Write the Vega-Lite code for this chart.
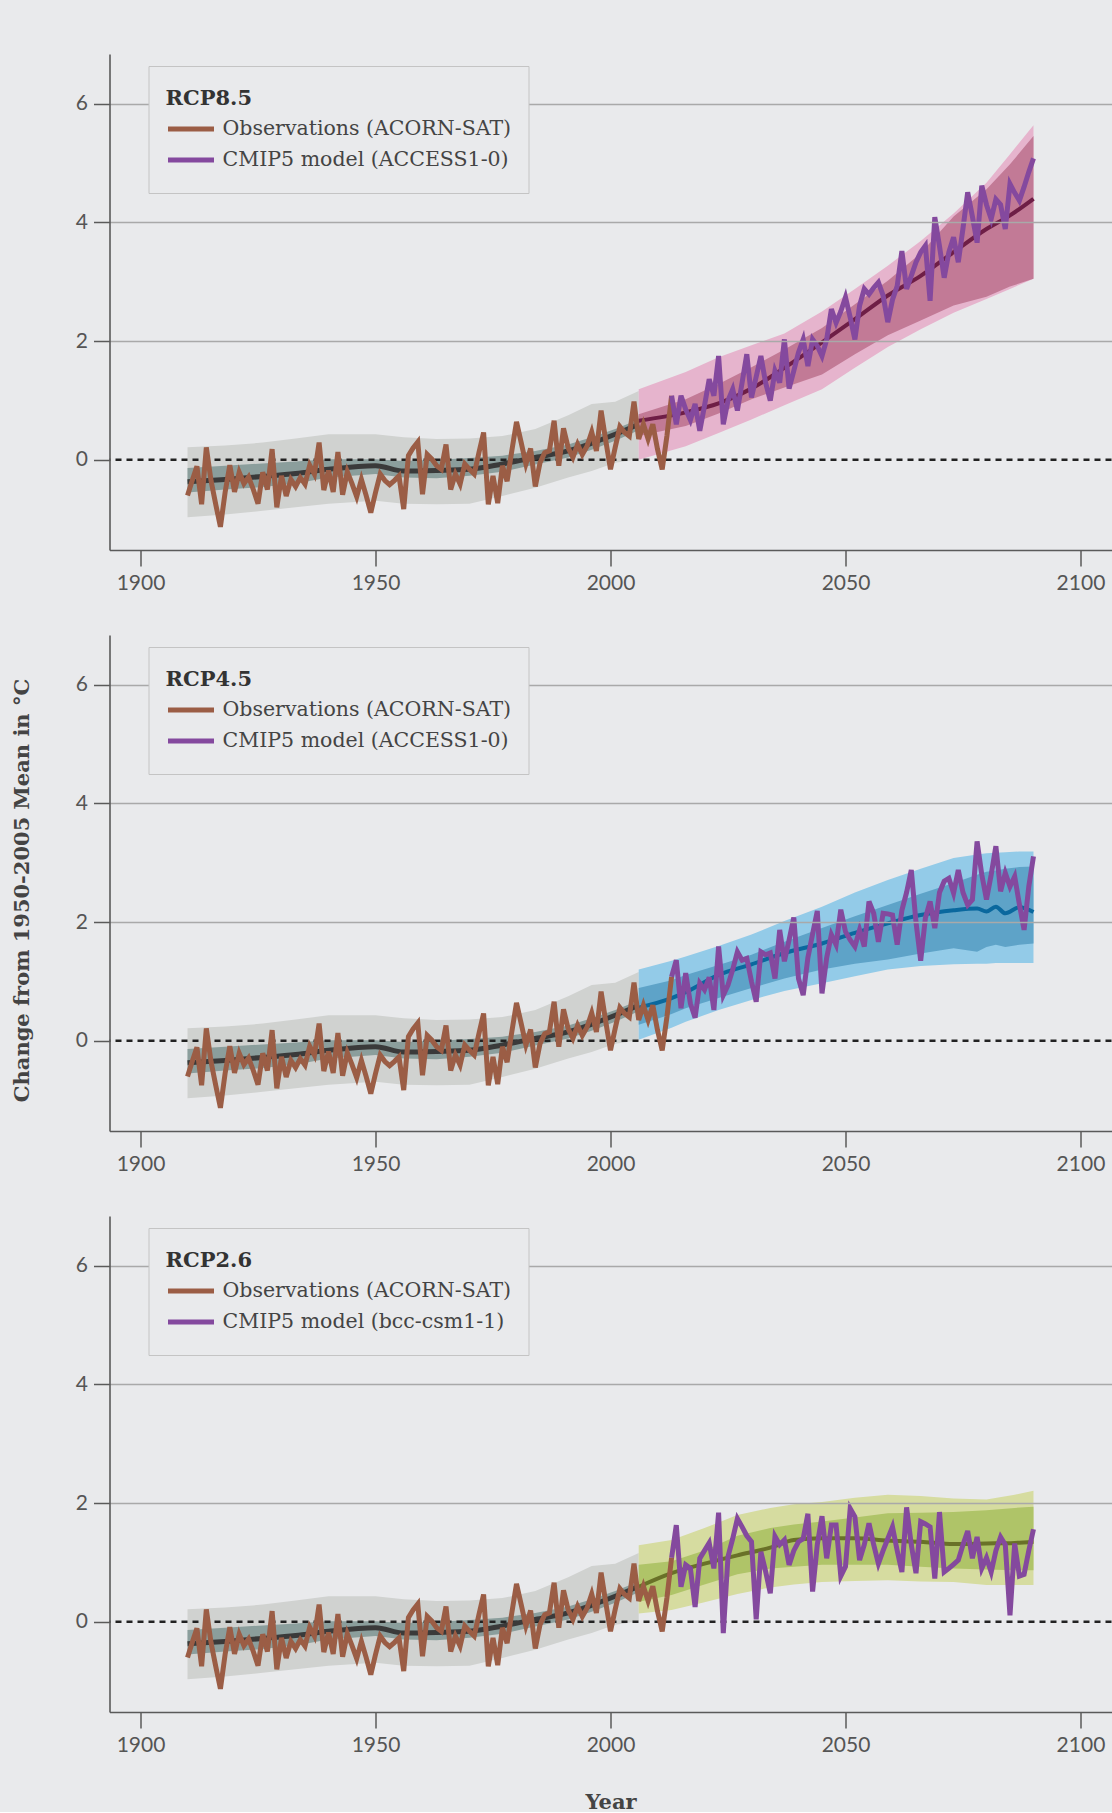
{
  "$schema": "https://vega.github.io/schema/vega-lite/v6.json",
  "background": "#e9eaec",
  "padding": {"left": 11.5, "top": 54, "right": 0, "bottom": 0},
  "bounds": "flush",
  "spacing": 85,
  "config": {
    "view": {"stroke": null},
    "axis": {"labelFont": "Lato", "labelFontSize": 21, "labelColor": "#555555", "titleFont": "DejaVu Serif", "titleFontSize": 21, "titleFontWeight": "bold", "titleColor": "#444444", "domainColor": "#5a5a5a", "domainWidth": 1.6, "tickColor": "#5a5a5a", "tickWidth": 1.5, "tickSize": 16},
    "legend": {"titleFont": "DejaVu Serif", "titleFontSize": 21, "titleFontWeight": "bold", "titleColor": "#333333", "titleBaseline": "line-top", "titleLineHeight": 32, "labelFont": "DejaVu Serif", "labelFontSize": 20.5, "labelColor": "#444444", "labelLimit": 500}
  },
  "datasets": {
    "obs": [
      {"year":1910,"t":-0.60},{"year":1911,"t":-0.35},{"year":1912,"t":-0.11},{"year":1913,"t":-0.75},{"year":1914,"t":0.21},{"year":1915,"t":-0.35},{"year":1916,"t":-0.75},{"year":1917,"t":-1.13},{"year":1918,"t":-0.55},{"year":1919,"t":-0.09},
      {"year":1920,"t":-0.54},{"year":1921,"t":-0.21},{"year":1922,"t":-0.40},{"year":1923,"t":-0.29},{"year":1924,"t":-0.50},{"year":1925,"t":-0.74},{"year":1926,"t":-0.21},{"year":1927,"t":-0.50},{"year":1928,"t":0.18},{"year":1929,"t":-0.80},
      {"year":1930,"t":-0.27},{"year":1931,"t":-0.61},{"year":1932,"t":-0.33},{"year":1933,"t":-0.45},{"year":1934,"t":-0.30},{"year":1935,"t":-0.41},{"year":1936,"t":-0.09},{"year":1937,"t":-0.24},{"year":1938,"t":0.29},{"year":1939,"t":-0.51},
      {"year":1940,"t":-0.18},{"year":1941,"t":-0.54},{"year":1942,"t":0.13},{"year":1943,"t":-0.59},{"year":1944,"t":-0.20},{"year":1945,"t":-0.40},{"year":1946,"t":-0.62},{"year":1947,"t":-0.33},{"year":1948,"t":-0.60},{"year":1949,"t":-0.89},
      {"year":1950,"t":-0.55},{"year":1951,"t":-0.24},{"year":1952,"t":-0.35},{"year":1953,"t":-0.42},{"year":1954,"t":-0.35},{"year":1955,"t":-0.27},{"year":1956,"t":-0.83},{"year":1957,"t":0.07},{"year":1958,"t":0.20},{"year":1959,"t":0.30},
      {"year":1960,"t":-0.58},{"year":1961,"t":0.09},{"year":1962,"t":0.01},{"year":1963,"t":-0.10},{"year":1964,"t":-0.16},{"year":1965,"t":0.26},{"year":1966,"t":-0.50},{"year":1967,"t":-0.24},{"year":1968,"t":-0.41},{"year":1969,"t":-0.07},
      {"year":1970,"t":-0.16},{"year":1971,"t":-0.24},{"year":1972,"t":0.12},{"year":1973,"t":0.46},{"year":1974,"t":-0.75},{"year":1975,"t":-0.27},{"year":1976,"t":-0.73},{"year":1977,"t":-0.10},{"year":1978,"t":-0.36},{"year":1979,"t":0.15},
      {"year":1980,"t":0.64},{"year":1981,"t":0.29},{"year":1982,"t":-0.07},{"year":1983,"t":0.19},{"year":1984,"t":-0.45},{"year":1985,"t":-0.05},{"year":1986,"t":0.12},{"year":1987,"t":0.15},{"year":1988,"t":0.66},{"year":1989,"t":-0.10},
      {"year":1990,"t":0.53},{"year":1991,"t":0.20},{"year":1992,"t":0.04},{"year":1993,"t":0.26},{"year":1994,"t":0.09},{"year":1995,"t":0.23},{"year":1996,"t":0.47},{"year":1997,"t":0.15},{"year":1998,"t":0.83},{"year":1999,"t":0.32},
      {"year":2000,"t":-0.16},{"year":2001,"t":0.21},{"year":2002,"t":0.56},{"year":2003,"t":0.46},{"year":2004,"t":0.40},{"year":2005,"t":0.98},{"year":2006,"t":0.35},{"year":2007,"t":0.60},{"year":2008,"t":0.35},{"year":2009,"t":0.60},
      {"year":2010,"t":0.18},{"year":2011,"t":-0.16},{"year":2012,"t":0.40},{"year":2013,"t":1.08}
    ],
    "hist": [
      {"year":1910,"hi":0.21,"lo":-0.97,"hi2":-0.14,"lo2":-0.55,"med":-0.37},
      {"year":1918,"hi":0.24,"lo":-0.92,"hi2":-0.10,"lo2":-0.50,"med":-0.33},
      {"year":1926,"hi":0.29,"lo":-0.86,"hi2":-0.06,"lo2":-0.46,"med":-0.28},
      {"year":1933,"hi":0.36,"lo":-0.80,"hi2":-0.03,"lo2":-0.40,"med":-0.23},
      {"year":1940,"hi":0.43,"lo":-0.74,"hi2":0.01,"lo2":-0.30,"med":-0.16},
      {"year":1950,"hi":0.43,"lo":-0.69,"hi2":0.01,"lo2":-0.24,"med":-0.10},
      {"year":1956,"hi":0.38,"lo":-0.74,"hi2":-0.02,"lo2":-0.30,"med":-0.19},
      {"year":1963,"hi":0.35,"lo":-0.75,"hi2":0.00,"lo2":-0.31,"med":-0.18},
      {"year":1970,"hi":0.36,"lo":-0.74,"hi2":0.03,"lo2":-0.27,"med":-0.16},
      {"year":1977,"hi":0.40,"lo":-0.61,"hi2":0.07,"lo2":-0.20,"med":-0.07},
      {"year":1984,"hi":0.52,"lo":-0.47,"hi2":0.15,"lo2":-0.08,"med":0.04},
      {"year":1991,"hi":0.75,"lo":-0.30,"hi2":0.26,"lo2":0.04,"med":0.15},
      {"year":1996,"hi":0.94,"lo":-0.19,"hi2":0.38,"lo2":0.17,"med":0.28},
      {"year":2001,"hi":0.98,"lo":-0.05,"hi2":0.52,"lo2":0.32,"med":0.43},
      {"year":2006,"hi":1.16,"lo":0.01,"hi2":0.68,"lo2":0.50,"med":0.60}
    ],
    "p85": [
      {"year":2006,"hi":1.19,"lo":0.00,"hi2":0.77,"lo2":0.40,"med":0.66},
      {"year":2016,"hi":1.48,"lo":0.23,"hi2":1.02,"lo2":0.57,"med":0.80},
      {"year":2023,"hi":1.73,"lo":0.45,"hi2":1.28,"lo2":0.78,"med":0.95},
      {"year":2030,"hi":1.93,"lo":0.68,"hi2":1.56,"lo2":1.02,"med":1.20},
      {"year":2037,"hi":2.13,"lo":0.92,"hi2":1.86,"lo2":1.22,"med":1.55},
      {"year":2045,"hi":2.50,"lo":1.19,"hi2":2.22,"lo2":1.44,"med":1.98},
      {"year":2052,"hi":2.88,"lo":1.55,"hi2":2.62,"lo2":1.78,"med":2.37},
      {"year":2059,"hi":3.27,"lo":1.90,"hi2":3.02,"lo2":2.10,"med":2.77},
      {"year":2066,"hi":3.69,"lo":2.20,"hi2":3.48,"lo2":2.35,"med":3.10},
      {"year":2073,"hi":4.15,"lo":2.48,"hi2":4.10,"lo2":2.60,"med":3.50},
      {"year":2080,"hi":4.67,"lo":2.71,"hi2":4.56,"lo2":2.75,"med":3.89},
      {"year":2085,"hi":5.15,"lo":2.88,"hi2":4.98,"lo2":2.92,"med":4.12},
      {"year":2090,"hi":5.64,"lo":3.05,"hi2":5.46,"lo2":3.05,"med":4.40}
    ],
    "p45": [
      {"year":2006,"hi":1.20,"lo":0.02,"hi2":0.89,"lo2":0.27,"med":0.56},
      {"year":2013,"hi":1.35,"lo":0.22,"hi2":1.02,"lo2":0.45,"med":0.72},
      {"year":2016,"hi":1.42,"lo":0.32,"hi2":1.11,"lo2":0.55,"med":0.82},
      {"year":2023,"hi":1.60,"lo":0.52,"hi2":1.28,"lo2":0.72,"med":1.11},
      {"year":2030,"hi":1.79,"lo":0.69,"hi2":1.45,"lo2":0.89,"med":1.29},
      {"year":2037,"hi":2.02,"lo":0.84,"hi2":1.67,"lo2":1.05,"med":1.48},
      {"year":2045,"hi":2.26,"lo":0.97,"hi2":1.90,"lo2":1.20,"med":1.64},
      {"year":2052,"hi":2.50,"lo":1.09,"hi2":2.10,"lo2":1.30,"med":1.82},
      {"year":2059,"hi":2.71,"lo":1.20,"hi2":2.29,"lo2":1.37,"med":1.98},
      {"year":2066,"hi":2.90,"lo":1.26,"hi2":2.48,"lo2":1.47,"med":2.12},
      {"year":2073,"hi":3.08,"lo":1.29,"hi2":2.66,"lo2":1.56,"med":2.20},
      {"year":2078,"hi":3.14,"lo":1.30,"hi2":2.80,"lo2":1.50,"med":2.23},
      {"year":2080,"hi":3.16,"lo":1.30,"hi2":2.85,"lo2":1.58,"med":2.18},
      {"year":2082,"hi":3.17,"lo":1.31,"hi2":2.87,"lo2":1.62,"med":2.26},
      {"year":2084,"hi":3.18,"lo":1.31,"hi2":2.90,"lo2":1.58,"med":2.15},
      {"year":2087,"hi":3.19,"lo":1.31,"hi2":2.93,"lo2":1.62,"med":2.25},
      {"year":2090,"hi":3.19,"lo":1.31,"hi2":2.94,"lo2":1.64,"med":2.17}
    ],
    "p26": [
      {"year":2006,"hi":1.29,"lo":0.14,"hi2":0.96,"lo2":0.34,"med":0.59},
      {"year":2013,"hi":1.38,"lo":0.20,"hi2":1.02,"lo2":0.45,"med":0.82},
      {"year":2020,"hi":1.58,"lo":0.33,"hi2":1.20,"lo2":0.63,"med":0.98},
      {"year":2027,"hi":1.80,"lo":0.47,"hi2":1.45,"lo2":0.80,"med":1.12},
      {"year":2034,"hi":1.92,"lo":0.58,"hi2":1.58,"lo2":0.90,"med":1.25},
      {"year":2039,"hi":1.98,"lo":0.63,"hi2":1.64,"lo2":0.93,"med":1.38},
      {"year":2045,"hi":2.02,"lo":0.67,"hi2":1.69,"lo2":0.96,"med":1.41},
      {"year":2052,"hi":2.09,"lo":0.69,"hi2":1.76,"lo2":0.96,"med":1.41},
      {"year":2059,"hi":2.14,"lo":0.70,"hi2":1.83,"lo2":0.96,"med":1.37},
      {"year":2066,"hi":2.12,"lo":0.68,"hi2":1.84,"lo2":0.93,"med":1.35},
      {"year":2073,"hi":2.08,"lo":0.67,"hi2":1.85,"lo2":0.90,"med":1.31},
      {"year":2080,"hi":2.06,"lo":0.62,"hi2":1.88,"lo2":0.88,"med":1.32},
      {"year":2086,"hi":2.14,"lo":0.62,"hi2":1.92,"lo2":0.87,"med":1.33},
      {"year":2090,"hi":2.21,"lo":0.62,"hi2":1.94,"lo2":0.87,"med":1.35}
    ],
    "m85": [
      {"year":2013,"t":1.08},{"year":2014,"t":0.60},{"year":2015,"t":1.08},{"year":2016,"t":0.85},{"year":2017,"t":0.67},{"year":2018,"t":0.94},{"year":2019,"t":0.49},
      {"year":2020,"t":0.91},{"year":2021,"t":1.36},{"year":2022,"t":1.08},{"year":2023,"t":1.75},{"year":2024,"t":0.60},{"year":2025,"t":1.00},{"year":2026,"t":1.19},{"year":2027,"t":0.83},{"year":2028,"t":1.30},{"year":2029,"t":1.78},
      {"year":2030,"t":1.05},{"year":2031,"t":1.40},{"year":2032,"t":1.75},{"year":2033,"t":1.30},{"year":2034,"t":1.00},{"year":2035,"t":1.50},{"year":2036,"t":1.30},{"year":2037,"t":2.03},{"year":2038,"t":1.20},{"year":2039,"t":1.50},
      {"year":2040,"t":1.81},{"year":2041,"t":2.03},{"year":2042,"t":1.58},{"year":2043,"t":2.03},{"year":2044,"t":1.92},{"year":2045,"t":1.75},{"year":2046,"t":2.03},{"year":2047,"t":2.54},{"year":2048,"t":2.31},{"year":2049,"t":2.50},
      {"year":2050,"t":2.74},{"year":2051,"t":2.40},{"year":2052,"t":2.03},{"year":2053,"t":2.60},{"year":2054,"t":2.88},{"year":2055,"t":2.79},{"year":2056,"t":2.90},{"year":2057,"t":2.99},{"year":2058,"t":2.77},{"year":2059,"t":2.32},
      {"year":2060,"t":2.70},{"year":2061,"t":2.93},{"year":2062,"t":3.52},{"year":2063,"t":2.88},{"year":2064,"t":3.10},{"year":2065,"t":3.33},{"year":2066,"t":3.50},{"year":2067,"t":3.61},{"year":2068,"t":2.68},{"year":2069,"t":4.09},
      {"year":2070,"t":3.60},{"year":2071,"t":3.07},{"year":2072,"t":3.50},{"year":2073,"t":3.75},{"year":2074,"t":3.33},{"year":2075,"t":3.90},{"year":2076,"t":4.51},{"year":2077,"t":4.10},{"year":2078,"t":3.66},{"year":2079,"t":4.62},
      {"year":2080,"t":4.30},{"year":2081,"t":4.06},{"year":2082,"t":4.39},{"year":2083,"t":4.30},{"year":2084,"t":3.89},{"year":2085,"t":4.65},{"year":2086,"t":4.50},{"year":2087,"t":4.37},{"year":2088,"t":4.60},{"year":2089,"t":4.85},{"year":2090,"t":5.08}
    ],
    "m45": [
      {"year":2013,"t":1.08},{"year":2014,"t":1.36},{"year":2015,"t":0.55},{"year":2016,"t":1.14},{"year":2017,"t":0.63},{"year":2018,"t":0.39},{"year":2019,"t":0.97},
      {"year":2020,"t":0.86},{"year":2021,"t":1.07},{"year":2022,"t":0.52},{"year":2023,"t":1.59},{"year":2024,"t":0.77},{"year":2025,"t":0.94},{"year":2026,"t":1.20},{"year":2027,"t":1.50},{"year":2028,"t":1.36},{"year":2029,"t":1.39},
      {"year":2030,"t":1.00},{"year":2031,"t":0.66},{"year":2032,"t":1.50},{"year":2033,"t":1.45},{"year":2034,"t":1.48},{"year":2035,"t":1.05},{"year":2036,"t":1.87},{"year":2037,"t":1.34},{"year":2038,"t":1.70},{"year":2039,"t":2.08},
      {"year":2040,"t":1.05},{"year":2041,"t":0.77},{"year":2042,"t":1.40},{"year":2043,"t":1.80},{"year":2044,"t":2.19},{"year":2045,"t":0.80},{"year":2046,"t":1.40},{"year":2047,"t":1.79},{"year":2048,"t":1.62},{"year":2049,"t":2.21},
      {"year":2050,"t":1.84},{"year":2051,"t":1.70},{"year":2052,"t":1.59},{"year":2053,"t":1.87},{"year":2054,"t":1.59},{"year":2055,"t":2.35},{"year":2056,"t":2.15},{"year":2057,"t":1.67},{"year":2058,"t":2.15},{"year":2059,"t":2.14},
      {"year":2060,"t":2.12},{"year":2061,"t":1.62},{"year":2062,"t":2.20},{"year":2063,"t":2.50},{"year":2064,"t":2.88},{"year":2065,"t":2.00},{"year":2066,"t":1.35},{"year":2067,"t":2.07},{"year":2068,"t":2.35},{"year":2069,"t":1.90},
      {"year":2070,"t":2.50},{"year":2071,"t":2.69},{"year":2072,"t":2.74},{"year":2073,"t":2.49},{"year":2074,"t":2.88},{"year":2075,"t":2.50},{"year":2076,"t":2.29},{"year":2077,"t":2.38},{"year":2078,"t":3.36},{"year":2079,"t":2.80},
      {"year":2080,"t":2.38},{"year":2081,"t":2.80},{"year":2082,"t":3.28},{"year":2083,"t":2.52},{"year":2084,"t":2.83},{"year":2085,"t":2.60},{"year":2086,"t":2.77},{"year":2087,"t":2.30},{"year":2088,"t":1.87},{"year":2089,"t":2.60},{"year":2090,"t":3.11}
    ],
    "m26": [
      {"year":2013,"t":1.08},{"year":2014,"t":1.63},{"year":2015,"t":0.59},{"year":2016,"t":0.96},{"year":2017,"t":0.90},{"year":2018,"t":0.25},{"year":2019,"t":1.07},
      {"year":2020,"t":1.20},{"year":2021,"t":1.33},{"year":2022,"t":0.90},{"year":2023,"t":1.84},{"year":2024,"t":-0.19},{"year":2025,"t":1.10},{"year":2026,"t":1.40},{"year":2027,"t":1.74},{"year":2028,"t":1.60},{"year":2029,"t":1.45},
      {"year":2030,"t":1.35},{"year":2031,"t":0.04},{"year":2032,"t":1.18},{"year":2033,"t":0.85},{"year":2034,"t":0.48},{"year":2035,"t":1.44},{"year":2036,"t":1.30},{"year":2037,"t":1.38},{"year":2038,"t":0.96},{"year":2039,"t":1.20},
      {"year":2040,"t":1.35},{"year":2041,"t":1.40},{"year":2042,"t":1.82},{"year":2043,"t":0.51},{"year":2044,"t":1.30},{"year":2045,"t":1.78},{"year":2046,"t":1.07},{"year":2047,"t":1.63},{"year":2048,"t":1.63},{"year":2049,"t":0.77},
      {"year":2050,"t":0.93},{"year":2051,"t":1.91},{"year":2052,"t":1.77},{"year":2053,"t":1.04},{"year":2054,"t":1.30},{"year":2055,"t":1.66},{"year":2056,"t":1.30},{"year":2057,"t":0.98},{"year":2058,"t":1.20},{"year":2059,"t":1.40},
      {"year":2060,"t":1.60},{"year":2061,"t":1.20},{"year":2062,"t":0.84},{"year":2063,"t":1.93},{"year":2064,"t":1.30},{"year":2065,"t":0.82},{"year":2066,"t":1.69},{"year":2067,"t":1.65},{"year":2068,"t":1.60},{"year":2069,"t":0.73},
      {"year":2070,"t":1.85},{"year":2071,"t":0.84},{"year":2072,"t":0.90},{"year":2073,"t":0.97},{"year":2074,"t":1.04},{"year":2075,"t":1.30},{"year":2076,"t":1.53},{"year":2077,"t":1.07},{"year":2078,"t":1.43},{"year":2079,"t":0.90},
      {"year":2080,"t":1.08},{"year":2081,"t":0.84},{"year":2082,"t":1.20},{"year":2083,"t":1.43},{"year":2084,"t":1.30},{"year":2085,"t":0.11},{"year":2086,"t":1.32},{"year":2087,"t":0.77},{"year":2088,"t":0.80},{"year":2089,"t":1.20},{"year":2090,"t":1.56}
    ],
    "zero": [{"ref": 0}]
  },
  "resolve": {"scale": {"x": "independent", "y": "independent", "color": "independent"}, "axis": {"x": "independent", "y": "independent"}, "legend": {"color": "independent"}},
  "vconcat": [
    {
      "width": 1002, "height": 496,
      "layer": [
        {"data": {"name": "hist"}, "mark": {"type": "area", "color": "#d0d2d0"},
         "encoding": {
           "x": {"field": "year", "type": "quantitative", "scale": {"domain": [1893.4, 2106.6], "nice": false, "zero": false}, "axis": {"values": [1900, 1950, 2000, 2050, 2100], "format": "d", "title": null, "grid": false, "labelPadding": 6}},
           "y": {"field": "lo", "type": "quantitative", "scale": {"domain": [-1.52, 6.84], "nice": false, "zero": false}, "axis": {"values": [0, 2, 4, 6], "format": "d", "title": null, "grid": true, "gridColor": "#a9a9a9", "gridWidth": 1.3, "gridOpacity": {"condition": {"test": "datum.value === 0", "value": 0}, "value": 1}, "labelPadding": 6, "zindex": 1}},
           "y2": {"field": "hi"}}},
        {"data": {"name": "hist"}, "mark": {"type": "area", "color": "#8b9e9c"},
         "encoding": {"x": {"field": "year", "type": "quantitative", "title": null}, "y": {"field": "lo2", "type": "quantitative", "title": null}, "y2": {"field": "hi2"}}},
        {"data": {"name": "p85"}, "mark": {"type": "area", "color": "#e6b4cd"},
         "encoding": {"x": {"field": "year", "type": "quantitative", "title": null}, "y": {"field": "lo", "type": "quantitative", "title": null}, "y2": {"field": "hi"}}},
        {"data": {"name": "p85"}, "mark": {"type": "area", "color": "#c27a96"},
         "encoding": {"x": {"field": "year", "type": "quantitative", "title": null}, "y": {"field": "lo2", "type": "quantitative", "title": null}, "y2": {"field": "hi2"}}},
        {"data": {"name": "zero"}, "mark": {"type": "rule", "color": "#222222", "strokeDash": [6, 5], "strokeWidth": 2.5},
         "encoding": {"y": {"field": "ref", "type": "quantitative", "title": null}}},
        {"data": {"name": "hist"}, "mark": {"type": "line", "color": "#3a3a3a", "strokeWidth": 5, "interpolate": "monotone"},
         "encoding": {"x": {"field": "year", "type": "quantitative", "title": null}, "y": {"field": "med", "type": "quantitative", "title": null}}},
        {"data": {"name": "p85"}, "mark": {"type": "line", "color": "#6e1e46", "strokeWidth": 4, "interpolate": "monotone"},
         "encoding": {"x": {"field": "year", "type": "quantitative", "title": null}, "y": {"field": "med", "type": "quantitative", "title": null}}},
        {"data": {"name": "obs"}, "mark": {"type": "line", "strokeWidth": 5},
         "encoding": {"x": {"field": "year", "type": "quantitative", "title": null}, "y": {"field": "t", "type": "quantitative", "title": null},
           "color": {"datum": "Observations (ACORN-SAT)", "type": "nominal",
             "scale": {"domain": ["Observations (ACORN-SAT)", "CMIP5 model (ACCESS1-0)"], "range": ["#9b5d45", "#84499e"]},
             "legend": {"title": "RCP8.5", "orient": "none", "legendX": 39, "legendY": 12, "direction": "vertical", "symbolType": "stroke", "symbolSize": 2116, "symbolStrokeWidth": 5, "labelOffset": 6, "clipHeight": 31, "rowPadding": 0, "titlePadding": 9.5, "padding": 17, "fillColor": "#e9eaec", "strokeColor": "#c4c4c4", "zindex": 2}}}},
        {"data": {"name": "m85"}, "mark": {"type": "line", "strokeWidth": 5},
         "encoding": {"x": {"field": "year", "type": "quantitative", "title": null}, "y": {"field": "t", "type": "quantitative", "title": null},
           "color": {"datum": "CMIP5 model (ACCESS1-0)", "type": "nominal"}}}
      ]
    },
    {
      "width": 1002, "height": 496,
      "layer": [
        {"data": {"name": "hist"}, "mark": {"type": "area", "color": "#d0d2d0"},
         "encoding": {
           "x": {"field": "year", "type": "quantitative", "scale": {"domain": [1893.4, 2106.6], "nice": false, "zero": false}, "axis": {"values": [1900, 1950, 2000, 2050, 2100], "format": "d", "title": null, "grid": false, "labelPadding": 6}},
           "y": {"field": "lo", "type": "quantitative", "scale": {"domain": [-1.52, 6.84], "nice": false, "zero": false}, "axis": {"values": [0, 2, 4, 6], "format": "d", "title": "Change from 1950-2005 Mean in °C", "titlePadding": 42.5, "titleY": 255, "grid": true, "gridColor": "#a9a9a9", "gridWidth": 1.3, "gridOpacity": {"condition": {"test": "datum.value === 0", "value": 0}, "value": 1}, "labelPadding": 6, "zindex": 1}},
           "y2": {"field": "hi"}}},
        {"data": {"name": "hist"}, "mark": {"type": "area", "color": "#8b9e9c"},
         "encoding": {"x": {"field": "year", "type": "quantitative", "title": null}, "y": {"field": "lo2", "type": "quantitative"}, "y2": {"field": "hi2"}}},
        {"data": {"name": "p45"}, "mark": {"type": "area", "color": "#93cbe8"},
         "encoding": {"x": {"field": "year", "type": "quantitative", "title": null}, "y": {"field": "lo", "type": "quantitative"}, "y2": {"field": "hi"}}},
        {"data": {"name": "p45"}, "mark": {"type": "area", "color": "#5ea3c8"},
         "encoding": {"x": {"field": "year", "type": "quantitative", "title": null}, "y": {"field": "lo2", "type": "quantitative"}, "y2": {"field": "hi2"}}},
        {"data": {"name": "zero"}, "mark": {"type": "rule", "color": "#222222", "strokeDash": [6, 5], "strokeWidth": 2.5},
         "encoding": {"y": {"field": "ref", "type": "quantitative"}}},
        {"data": {"name": "hist"}, "mark": {"type": "line", "color": "#3a3a3a", "strokeWidth": 5, "interpolate": "monotone"},
         "encoding": {"x": {"field": "year", "type": "quantitative", "title": null}, "y": {"field": "med", "type": "quantitative"}}},
        {"data": {"name": "p45"}, "mark": {"type": "line", "color": "#0a689e", "strokeWidth": 4, "interpolate": "monotone"},
         "encoding": {"x": {"field": "year", "type": "quantitative", "title": null}, "y": {"field": "med", "type": "quantitative"}}},
        {"data": {"name": "obs"}, "mark": {"type": "line", "strokeWidth": 5},
         "encoding": {"x": {"field": "year", "type": "quantitative", "title": null}, "y": {"field": "t", "type": "quantitative"},
           "color": {"datum": "Observations (ACORN-SAT)", "type": "nominal",
             "scale": {"domain": ["Observations (ACORN-SAT)", "CMIP5 model (ACCESS1-0)"], "range": ["#9b5d45", "#84499e"]},
             "legend": {"title": "RCP4.5", "orient": "none", "legendX": 39, "legendY": 12, "direction": "vertical", "symbolType": "stroke", "symbolSize": 2116, "symbolStrokeWidth": 5, "labelOffset": 6, "clipHeight": 31, "rowPadding": 0, "titlePadding": 9.5, "padding": 17, "fillColor": "#e9eaec", "strokeColor": "#c4c4c4", "zindex": 2}}}},
        {"data": {"name": "m45"}, "mark": {"type": "line", "strokeWidth": 5},
         "encoding": {"x": {"field": "year", "type": "quantitative", "title": null}, "y": {"field": "t", "type": "quantitative"},
           "color": {"datum": "CMIP5 model (ACCESS1-0)", "type": "nominal"}}}
      ]
    },
    {
      "width": 1002, "height": 496,
      "layer": [
        {"data": {"name": "hist"}, "mark": {"type": "area", "color": "#d0d2d0"},
         "encoding": {
           "x": {"field": "year", "type": "quantitative", "scale": {"domain": [1893.4, 2106.6], "nice": false, "zero": false}, "axis": {"values": [1900, 1950, 2000, 2050, 2100], "format": "d", "title": "Year", "titlePadding": 36, "grid": false, "labelPadding": 6}},
           "y": {"field": "lo", "type": "quantitative", "scale": {"domain": [-1.52, 6.84], "nice": false, "zero": false}, "axis": {"values": [0, 2, 4, 6], "format": "d", "title": null, "grid": true, "gridColor": "#a9a9a9", "gridWidth": 1.3, "gridOpacity": {"condition": {"test": "datum.value === 0", "value": 0}, "value": 1}, "labelPadding": 6, "zindex": 1}},
           "y2": {"field": "hi"}}},
        {"data": {"name": "hist"}, "mark": {"type": "area", "color": "#8b9e9c"},
         "encoding": {"x": {"field": "year", "type": "quantitative"}, "y": {"field": "lo2", "type": "quantitative", "title": null}, "y2": {"field": "hi2"}}},
        {"data": {"name": "p26"}, "mark": {"type": "area", "color": "#d6dca0"},
         "encoding": {"x": {"field": "year", "type": "quantitative"}, "y": {"field": "lo", "type": "quantitative", "title": null}, "y2": {"field": "hi"}}},
        {"data": {"name": "p26"}, "mark": {"type": "area", "color": "#afc468"},
         "encoding": {"x": {"field": "year", "type": "quantitative"}, "y": {"field": "lo2", "type": "quantitative", "title": null}, "y2": {"field": "hi2"}}},
        {"data": {"name": "zero"}, "mark": {"type": "rule", "color": "#222222", "strokeDash": [6, 5], "strokeWidth": 2.5},
         "encoding": {"y": {"field": "ref", "type": "quantitative", "title": null}}},
        {"data": {"name": "hist"}, "mark": {"type": "line", "color": "#3a3a3a", "strokeWidth": 5, "interpolate": "monotone"},
         "encoding": {"x": {"field": "year", "type": "quantitative"}, "y": {"field": "med", "type": "quantitative", "title": null}}},
        {"data": {"name": "p26"}, "mark": {"type": "line", "color": "#697128", "strokeWidth": 4, "interpolate": "monotone"},
         "encoding": {"x": {"field": "year", "type": "quantitative"}, "y": {"field": "med", "type": "quantitative", "title": null}}},
        {"data": {"name": "obs"}, "mark": {"type": "line", "strokeWidth": 5},
         "encoding": {"x": {"field": "year", "type": "quantitative"}, "y": {"field": "t", "type": "quantitative", "title": null},
           "color": {"datum": "Observations (ACORN-SAT)", "type": "nominal",
             "scale": {"domain": ["Observations (ACORN-SAT)", "CMIP5 model (bcc-csm1-1)"], "range": ["#9b5d45", "#84499e"]},
             "legend": {"title": "RCP2.6", "orient": "none", "legendX": 39, "legendY": 12, "direction": "vertical", "symbolType": "stroke", "symbolSize": 2116, "symbolStrokeWidth": 5, "labelOffset": 6, "clipHeight": 31, "rowPadding": 0, "titlePadding": 9.5, "padding": 17, "fillColor": "#e9eaec", "strokeColor": "#c4c4c4", "zindex": 2}}}},
        {"data": {"name": "m26"}, "mark": {"type": "line", "strokeWidth": 5},
         "encoding": {"x": {"field": "year", "type": "quantitative"}, "y": {"field": "t", "type": "quantitative", "title": null},
           "color": {"datum": "CMIP5 model (bcc-csm1-1)", "type": "nominal"}}}
      ]
    }
  ]
}
